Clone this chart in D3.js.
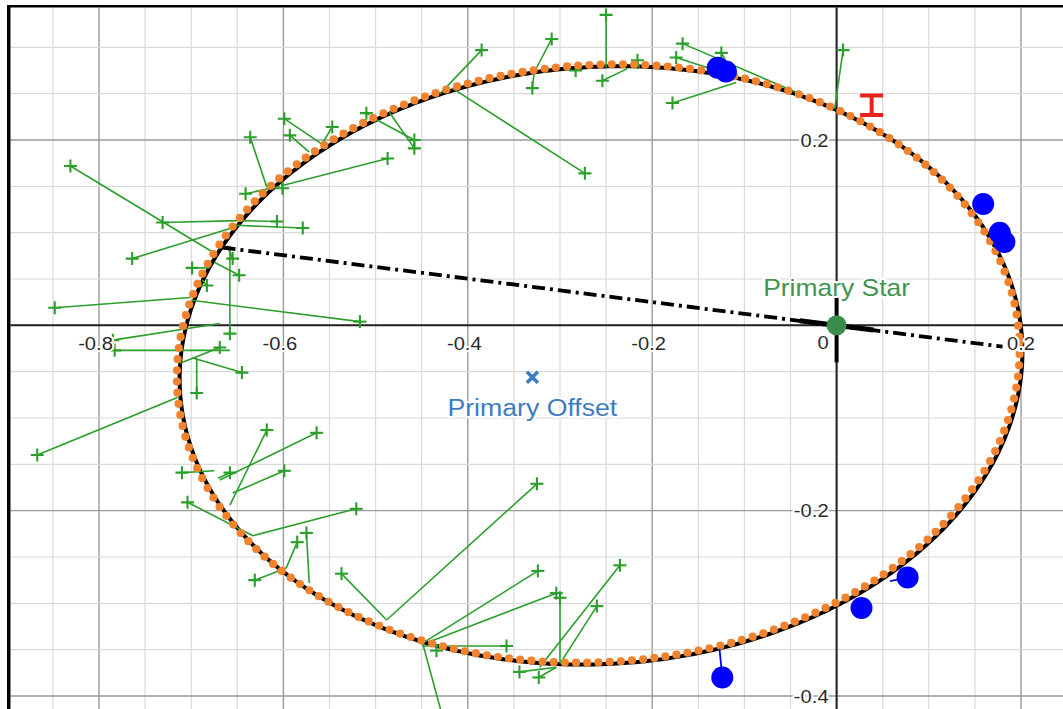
<!DOCTYPE html>
<html><head><meta charset="utf-8">
<script src="https://cdn.jsdelivr.net/npm/d3@7"></script>
<style>html,body{margin:0;padding:0;background:#fff;} svg{display:block;}</style>
</head><body>
<svg id="chart" width="1063" height="709"></svg>
<script>
// Fitted apparent orbit: centre, semi-axes, tilt (radians, counter-clockwise)
const orbitCentre = [-0.2555, -0.0432];
const orbitAxes = [0.4575, 0.3222];
const orbitTilt = 0.063;
// Ephemeris track, drawn as a dotted curve
const ephemCentre = [-0.2585, -0.0412];
const ephemAxes = [0.4575, 0.3222];
const ephemTilt = 0.063;

// Line of apsides (apastron -> periastron)
const apsides = [[-0.666, 0.084], [0.180, -0.023]];

// Visual measurements and the matching predicted positions on the orbit
const observed = [
  [-0.250, 0.335], [-0.385, 0.297], [-0.309, 0.309], [-0.330, 0.256], [-0.283, 0.275],
  [-0.254, 0.264], [-0.216, 0.286], [-0.167, 0.304], [-0.174, 0.289], [-0.125, 0.294],
  [0.007, 0.297], [-0.178, 0.240], [-0.273, 0.164], [-0.458, 0.200], [-0.458, 0.191],
  [-0.510, 0.229], [-0.487, 0.180], [-0.547, 0.214], [-0.599, 0.223], [-0.593, 0.205],
  [-0.636, 0.203], [-0.831, 0.172], [-0.641, 0.142], [-0.601, 0.148], [-0.731, 0.111],
  [-0.607, 0.112], [-0.579, 0.105], [-0.764, 0.072], [-0.655, 0.072], [-0.648, 0.054],
  [-0.699, 0.062], [-0.683, 0.043], [-0.848, 0.019], [-0.517, 0.004], [-0.658, -0.009],
  [-0.785, -0.016], [-0.783, -0.027], [-0.669, -0.024], [-0.645, -0.051], [-0.694, -0.073],
  [-0.867, -0.140], [-0.618, -0.113], [-0.564, -0.116], [-0.710, -0.159], [-0.658, -0.159],
  [-0.599, -0.157], [-0.704, -0.191], [-0.521, -0.198], [-0.575, -0.224], [-0.585, -0.234],
  [-0.631, -0.275], [-0.537, -0.268], [-0.325, -0.171], [-0.324, -0.265], [-0.304, -0.289],
  [-0.235, -0.259], [-0.260, -0.303], [-0.358, -0.346], [-0.344, -0.374], [-0.323, -0.380],
  [-0.300, -0.294], [-0.422, -0.442], [-0.434, -0.351]
];
const predicted = [
  [-0.250, 0.278], [-0.430, 0.250], [-0.327, 0.275], [-0.328, 0.273], [-0.283, 0.277],
  [-0.227, 0.277], [-0.214, 0.278], [-0.040, 0.250], [-0.125, 0.273], [-0.111, 0.269],
  [-0.002, 0.234], [-0.109, 0.262], [-0.417, 0.256], [-0.503, 0.224], [-0.485, 0.230],
  [-0.507, 0.227], [-0.601, 0.151], [-0.558, 0.196], [-0.559, 0.196], [-0.572, 0.187],
  [-0.618, 0.149], [-0.675, 0.078], [-0.604, 0.150], [-0.602, 0.153], [-0.648, 0.113],
  [-0.648, 0.113], [-0.651, 0.108], [-0.650, 0.107], [-0.661, 0.086], [-0.675, 0.068],
  [-0.680, 0.062], [-0.688, 0.049], [-0.701, 0.030], [-0.700, 0.027], [-0.658, 0.086],
  [-0.669, 0.002], [-0.658, -0.027], [-0.712, -0.041], [-0.699, -0.035], [-0.694, -0.035],
  [-0.715, -0.078], [-0.658, -0.194], [-0.669, -0.167], [-0.675, -0.157], [-0.671, -0.165],
  [-0.655, -0.181], [-0.633, -0.227], [-0.633, -0.227], [-0.572, -0.278], [-0.597, -0.262],
  [-0.597, -0.262], [-0.488, -0.318], [-0.488, -0.318], [-0.449, -0.343], [-0.438, -0.340],
  [-0.322, -0.369], [-0.300, -0.365], [-0.449, -0.346], [-0.304, -0.369], [-0.304, -0.369],
  [-0.300, -0.364], [-0.449, -0.343], [-0.434, -0.349]
];

// Speckle measurements and their predicted positions
const speckleObs = [
  [-0.129, 0.278], [-0.120, 0.274], [0.159, 0.131], [0.177, 0.100], [0.182, 0.090],
  [0.027, -0.305], [0.077, -0.272], [-0.124, -0.380]
];
const speckleFit = [
  [-0.129, 0.278], [-0.120, 0.274], [0.159, 0.131], [0.177, 0.100], [0.182, 0.090],
  [0.027, -0.305], [0.058, -0.276], [-0.127, -0.349]
];

// Single measurement with vertical error bar: x, y low, y high
const errorBarX = [0.038];
const errorBarLow = [0.227];
const errorBarHigh = [0.248];

const primaryStar = [0, 0];
const primaryOffset = [-0.33, -0.056];

const xTickValues = [-0.8, -0.6, -0.4, -0.2, 0.2];
const yTickValues = [0.2, -0.2, -0.4];

const W = 1063, H = 709;
const svg = d3.select('#chart');
const x = d3.scaleLinear().domain([-0.8, 0.2]).range([99, 1021]);
const y = d3.scaleLinear().domain([-0.4, 0.2]).range([696, 140]);

const plotLeft = 10.5, plotTop = 7.5;
svg.append('rect').attr('width', W).attr('height', H).attr('fill', '#fff');
svg.append('clipPath').attr('id', 'plotclip').append('rect')
  .attr('x', plotLeft).attr('y', plotTop).attr('width', W - plotLeft).attr('height', H - plotTop);
const g = svg.append('g').attr('clip-path', 'url(#plotclip)');

// grid: minor every 0.05, major every 0.2
const xMin = x.invert(plotLeft), xMax = x.invert(W), yMin = y.invert(H), yMax = y.invert(plotTop);
const minorX = d3.range(Math.ceil(xMin / 0.05) * 0.05, xMax, 0.05);
const minorY = d3.range(Math.ceil(yMin / 0.05) * 0.05, yMax, 0.05);
const isMajor = v => Math.abs(v / 0.2 - Math.round(v / 0.2)) < 1e-6;
g.selectAll('.gx').data(minorX).join('line')
  .attr('x1', d => x(d)).attr('x2', d => x(d)).attr('y1', 0).attr('y2', H)
  .attr('stroke', d => isMajor(d) ? '#9a9a9a' : '#dadada').attr('stroke-width', d => isMajor(d) ? 1.4 : 1.2);
g.selectAll('.gy').data(minorY).join('line')
  .attr('y1', d => y(d)).attr('y2', d => y(d)).attr('x1', 0).attr('x2', W)
  .attr('stroke', d => isMajor(d) ? '#9a9a9a' : '#dadada').attr('stroke-width', d => isMajor(d) ? 1.4 : 1.2);

// axes
g.append('line').attr('x1', 0).attr('x2', W).attr('y1', y(0)).attr('y2', y(0)).attr('stroke', '#222').attr('stroke-width', 2);
g.append('line').attr('y1', 0).attr('y2', H).attr('x1', x(0)).attr('x2', x(0)).attr('stroke', '#222').attr('stroke-width', 2);

function ellipsePts(c, ax, tilt, n) {
  return d3.range(n + 1).map(i => {
    const t = 2 * Math.PI * i / n;
    const ex = ax[0] * Math.cos(t), ey = ax[1] * Math.sin(t);
    return [c[0] + ex * Math.cos(tilt) - ey * Math.sin(tilt),
            c[1] + ex * Math.sin(tilt) + ey * Math.cos(tilt)];
  });
}
const line = d3.line().x(d => x(d[0])).y(d => y(d[1]));

// fitted orbit
g.append('path').attr('d', line(ellipsePts(orbitCentre, orbitAxes, orbitTilt, 720)))
  .attr('fill', 'none').attr('stroke', '#000').attr('stroke-width', 4);

// residual lines and measurement crosses
const green = '#2b9f2b';
g.selectAll('.res').data(observed).join('line')
  .attr('x1', d => x(d[0])).attr('y1', d => y(d[1]))
  .attr('x2', (d, i) => x(predicted[i][0])).attr('y2', (d, i) => y(predicted[i][1]))
  .attr('stroke', green).attr('stroke-width', 1.6);
const plus = g.selectAll('.plus').data(observed).join('g')
  .attr('transform', d => `translate(${x(d[0])},${y(d[1])})`);
plus.append('line').attr('x1', -6.5).attr('x2', 6.5).attr('stroke', green).attr('stroke-width', 2.1);
plus.append('line').attr('y1', -6.5).attr('y2', 6.5).attr('stroke', green).attr('stroke-width', 2.1);

// ephemeris dots
g.append('path').attr('d', line(ellipsePts(ephemCentre, ephemAxes, ephemTilt, 720)))
  .attr('fill', 'none').attr('stroke', '#f2832e').attr('stroke-width', 8.2)
  .attr('stroke-linecap', 'round').attr('stroke-dasharray', '0 11.2');

// line of apsides
g.append('path').attr('d', line(apsides)).attr('fill', 'none').attr('stroke', '#000')
  .attr('stroke-width', 3.8).attr('stroke-dasharray', '13 5 3 5');
const nearStar = [[-0.04, -0.04 * apsides[0][1] / apsides[0][0]], [0.04, 0.04 * apsides[1][1] / apsides[1][0]]];
g.append('path').attr('d', line(nearStar)).attr('stroke', '#000').attr('stroke-width', 5);
g.append('line').attr('x1', x(0)).attr('x2', x(0)).attr('y1', y(0.03)).attr('y2', y(-0.04))
  .attr('stroke', '#000').attr('stroke-width', 4);

// speckle points
g.selectAll('.spl').data(speckleObs).join('line')
  .attr('x1', d => x(d[0])).attr('y1', d => y(d[1]))
  .attr('x2', (d, i) => x(speckleFit[i][0])).attr('y2', (d, i) => y(speckleFit[i][1]))
  .attr('stroke', '#0000ff').attr('stroke-width', 1.8);
g.selectAll('.sp').data(speckleObs).join('circle')
  .attr('cx', d => x(d[0])).attr('cy', d => y(d[1])).attr('r', 11).attr('fill', '#0000ff');

// error bar measurement
const red = '#e8231d';
errorBarX.forEach((ex, i) => {
  const px = x(ex), y0 = y(errorBarLow[i]), y1 = y(errorBarHigh[i]);
  g.append('line').attr('x1', px).attr('x2', px).attr('y1', y0).attr('y2', y1).attr('stroke', red).attr('stroke-width', 4);
  [y0, y1].forEach(yy => g.append('line').attr('x1', px - 11.5).attr('x2', px + 11.5)
    .attr('y1', yy).attr('y2', yy).attr('stroke', red).attr('stroke-width', 4));
});

// primary offset marker
const blue = '#3d7cc0';
const ox = x(primaryOffset[0]), oy = y(primaryOffset[1]);
g.append('path').attr('d', `M${ox - 5.5},${oy - 5.5}L${ox + 5.5},${oy + 5.5}M${ox - 5.5},${oy + 5.5}L${ox + 5.5},${oy - 5.5}`)
  .attr('stroke', blue).attr('stroke-width', 3.6);

// primary star
g.append('circle').attr('cx', x(primaryStar[0])).attr('cy', y(primaryStar[1])).attr('r', 10).attr('fill', '#3a8c4a');

// labels
function label(txt, px, py, anchor, size, color, stretch) {
  g.append('text').attr('transform', `translate(${px},${py}) scale(${stretch},1)`)
    .attr('text-anchor', anchor).attr('font-family', 'Liberation Sans, Arial, sans-serif')
    .attr('font-size', size).attr('fill', color)
    .attr('stroke', '#fff').attr('stroke-width', 4).attr('stroke-linejoin', 'round')
    .attr('paint-order', 'stroke').text(txt);
}
const fmt = v => (v < 0 ? '-' : '') + Math.abs(v).toFixed(1);
xTickValues.forEach(v => label(fmt(v), x(v) + (v < 0 ? -3.5 : 0), y(0) + 25, 'middle', 18, '#2b2b2b', 1.12));
yTickValues.forEach(v => label(fmt(v), x(0) - 8, y(v) + 6.5, 'end', 18, '#2b2b2b', 1.12));
label('0', x(0) - 8, y(0) + 24, 'end', 18, '#2b2b2b', 1.12);
label('Primary Star', x(primaryStar[0]), y(primaryStar[1]) - 29, 'middle', 23, '#3f944f', 1.15);
label('Primary Offset', ox, oy + 39, 'middle', 23, blue, 1.16);

// frame (left and top edges)
svg.append('rect').attr('x', 7).attr('y', 5).attr('width', 3.5).attr('height', H - 5).attr('fill', '#000');
svg.append('rect').attr('x', 7).attr('y', 5).attr('width', W - 7).attr('height', 2.5).attr('fill', '#000');
</script>
</body></html>
